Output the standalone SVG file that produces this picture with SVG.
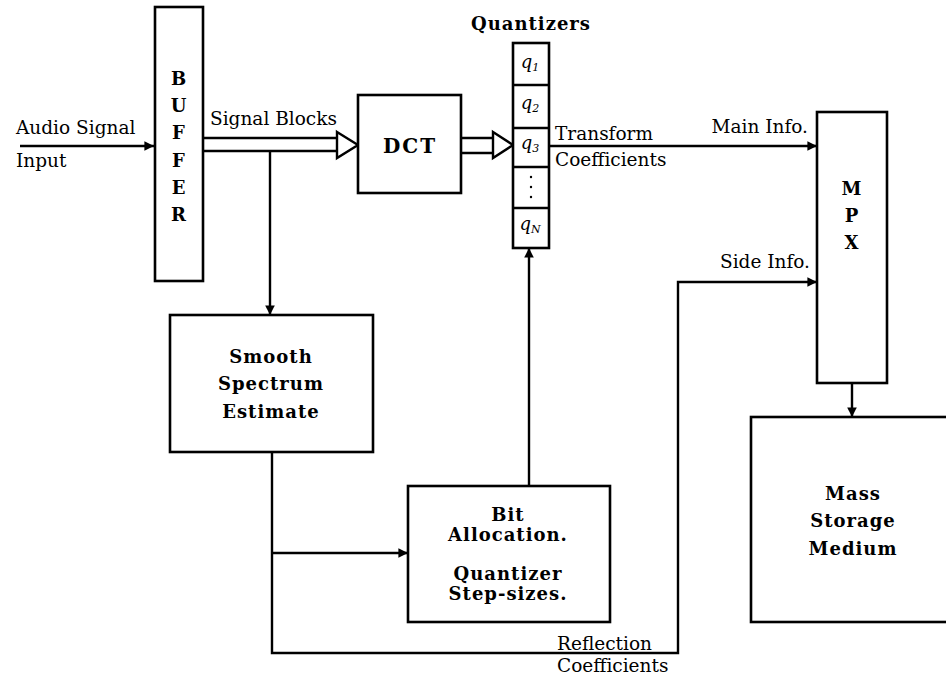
<svg xmlns="http://www.w3.org/2000/svg" width="946" height="681" viewBox="0 0 946 681">
<defs>
<marker id="ah" viewBox="0 0 10 10" refX="10" refY="5" markerWidth="4" markerHeight="4" orient="auto" markerUnits="strokeWidth">
<path d="M0,0 L10,5 L0,10 z" fill="#000"/>
</marker>
<style>
.box{fill:#fff;stroke:#000;stroke-width:2.6}
.ln{fill:none;stroke:#000;stroke-width:2.4}
.tri{fill:#fff;stroke:#000;stroke-width:2.4;stroke-linejoin:miter}
.lbl{font-family:"DejaVu Serif","Liberation Serif",serif;font-size:18.5px;fill:#000}
.bt{font-family:"DejaVu Serif","Liberation Serif",serif;font-size:18px;font-weight:bold;fill:#000;text-anchor:middle;letter-spacing:1px}
.q{font-family:"DejaVu Serif","Liberation Serif",serif;font-size:18px;font-style:italic;fill:#000;text-anchor:middle}
.sub{font-size:11px}
</style>
</defs>
<rect width="946" height="681" fill="#fff"/>

<g id="connectors">
<line class="ln" x1="20" y1="146" x2="154" y2="146" marker-end="url(#ah)"/>
<line class="ln" x1="203" y1="138" x2="338" y2="138"/>
<line class="ln" x1="203" y1="151" x2="338" y2="151"/>
<polygon class="tri" points="337,132 358,145 337,158"/>
<line class="ln" x1="270" y1="151" x2="270" y2="315" marker-end="url(#ah)"/>
<line class="ln" x1="461" y1="138" x2="494" y2="138"/>
<line class="ln" x1="461" y1="153" x2="494" y2="153"/>
<polygon class="tri" points="493,132 513,145 493,158"/>
<line class="ln" x1="549" y1="146" x2="817" y2="146" marker-end="url(#ah)"/>
<polyline class="ln" points="272,452 272,653 678,653 678,282 817,282" marker-end="url(#ah)"/>
<line class="ln" x1="272" y1="553" x2="408" y2="553" marker-end="url(#ah)"/>
<line class="ln" x1="529" y1="486" x2="529" y2="248" marker-end="url(#ah)"/>
<line class="ln" x1="852" y1="383" x2="852" y2="417" marker-end="url(#ah)"/>
</g>

<g id="buffer">
<rect class="box" x="155" y="7" width="48" height="274"/>
<text class="bt" x="179" y="85">B</text>
<text class="bt" x="179" y="112">U</text>
<text class="bt" x="179" y="139">F</text>
<text class="bt" x="179" y="167">F</text>
<text class="bt" x="179" y="194">E</text>
<text class="bt" x="179" y="221">R</text>
</g>

<g id="dct">
<rect class="box" x="358" y="95" width="103" height="98"/>
<text class="bt" x="410" y="153" style="font-size:20px;letter-spacing:2px">DCT</text>
</g>

<g id="quantizers">
<text class="bt" x="531" y="30">Quantizers</text>
<rect class="box" x="513" y="43" width="36" height="205"/>
<line class="ln" x1="513" y1="85" x2="549" y2="85"/>
<line class="ln" x1="513" y1="128" x2="549" y2="128"/>
<line class="ln" x1="513" y1="167" x2="549" y2="167"/>
<line class="ln" x1="513" y1="208" x2="549" y2="208"/>
<text class="q" x="530" y="68">q<tspan class="sub" dy="3">1</tspan></text>
<text class="q" x="530" y="109">q<tspan class="sub" dy="3">2</tspan></text>
<text class="q" x="530" y="149">q<tspan class="sub" dy="3">3</tspan></text>
<circle cx="531" cy="177" r="1.2" fill="#000"/>
<circle cx="531" cy="187" r="1.2" fill="#000"/>
<circle cx="531" cy="197" r="1.2" fill="#000"/>
<text class="q" x="530" y="230">q<tspan class="sub" dy="3">N</tspan></text>
</g>

<g id="mpx">
<rect class="box" x="817" y="112" width="70" height="271"/>
<text class="bt" x="852" y="195">M</text>
<text class="bt" x="852" y="222">P</text>
<text class="bt" x="852" y="249">X</text>
</g>

<g id="smooth">
<rect class="box" x="170" y="315" width="203" height="137"/>
<text class="bt" x="271" y="363">Smooth</text>
<text class="bt" x="271" y="390">Spectrum</text>
<text class="bt" x="271" y="418">Estimate</text>
</g>

<g id="bitalloc">
<rect class="box" x="408" y="486" width="202" height="136"/>
<text class="bt" x="508" y="521">Bit</text>
<text class="bt" x="508" y="541">Allocation.</text>
<text class="bt" x="508" y="580">Quantizer</text>
<text class="bt" x="508" y="600">Step-sizes.</text>
</g>

<g id="storage">
<rect class="box" x="751" y="417" width="220" height="205"/>
<text class="bt" x="853" y="500">Mass</text>
<text class="bt" x="853" y="527">Storage</text>
<text class="bt" x="853" y="555">Medium</text>
</g>

<g id="labels">
<text class="lbl" x="16" y="134">Audio Signal</text>
<text class="lbl" x="16" y="167">Input</text>
<text class="lbl" x="210" y="125">Signal Blocks</text>
<text class="lbl" x="555" y="140">Transform</text>
<text class="lbl" x="555" y="166">Coefficients</text>
<text class="lbl" x="808" y="133" text-anchor="end">Main Info.</text>
<text class="lbl" x="810" y="268" text-anchor="end">Side Info.</text>
<text class="lbl" x="557" y="650">Reflection</text>
<text class="lbl" x="557" y="672">Coefficients</text>
</g>
</svg>
